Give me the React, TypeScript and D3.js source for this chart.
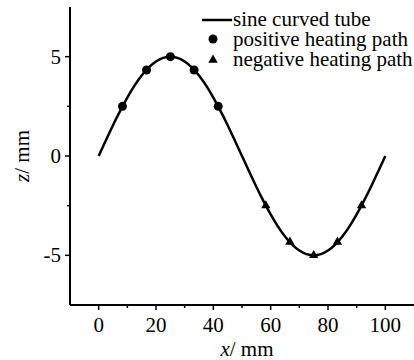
import React from "react";
import * as d3 from "d3";

const curveX = [0, 2.5, 5, 7.5, 10, 12.5, 15, 17.5, 20, 22.5, 25, 27.5, 30, 32.5, 35, 37.5, 40, 42.5, 45, 47.5, 50, 52.5, 55, 57.5, 60, 62.5, 65, 67.5, 70, 72.5, 75, 77.5, 80, 82.5, 85, 87.5, 90, 92.5, 95, 97.5, 100];
const curveZ = [0, 0.78, 1.55, 2.27, 2.94, 3.54, 4.05, 4.46, 4.76, 4.94, 5, 4.94, 4.76, 4.46, 4.05, 3.54, 2.94, 2.27, 1.55, 0.78, 0, -0.78, -1.55, -2.27, -2.94, -3.54, -4.05, -4.46, -4.76, -4.94, -5, -4.94, -4.76, -4.46, -4.05, -3.54, -2.94, -2.27, -1.55, -0.78, 0];
const posX = [8.3, 16.7, 25, 33.3, 41.7];
const posZ = [2.5, 4.33, 5, 4.33, 2.5];
const negX = [58.3, 66.7, 75, 83.3, 91.7];
const negZ = [-2.5, -4.33, -5, -4.33, -2.5];
const xTicks = [0, 20, 40, 60, 80, 100];
const xMinor = [10, 30, 50, 70, 90];
const yTicks = [5, 0, -5];
const yMinor = [2.5, -2.5];
const legendLabels = ["sine curved tube", "positive heating path", "negative heating path"];

const FONT = "'Liberation Serif', 'Times New Roman', serif";
const FS = 21;

export default function App() {
  const W = 414, H = 360;
  const x = d3.scaleLinear().domain([-10, 110]).range([70, 414]);
  const y = d3.scaleLinear().domain([-7.5, 7.5]).range([305, 7]);
  const line = d3
    .line<number>()
    .x((_, i) => x(curveX[i]))
    .y((d) => y(d))
    .curve(d3.curveNatural);
  const tri = d3.symbol().type(d3.symbolTriangle).size(38)();
  return (
    <svg width={W} height={H} style={{ position: "absolute", left: 0, top: 0, background: "#fff" }} fontFamily={FONT}>
      {/* axes */}
      <line x1={x(-10)} x2={x(110)} y1={y(-7.5)} y2={y(-7.5)} stroke="#000" strokeWidth={2} />
      <line x1={x(-10)} x2={x(-10)} y1={y(-7.5)} y2={y(7.5)} stroke="#000" strokeWidth={2} />
      {xTicks.map((t) => (
        <g key={"xt" + t}>
          <line x1={x(t)} x2={x(t)} y1={y(-7.5)} y2={y(-7.5) + 5} stroke="#000" strokeWidth={1.5} />
          <text x={x(t)} y={332} textAnchor="middle" fontSize={FS}>{t}</text>
        </g>
      ))}
      {xMinor.map((t) => (
        <line key={"xm" + t} x1={x(t)} x2={x(t)} y1={y(-7.5)} y2={y(-7.5) + 3} stroke="#000" strokeWidth={1.5} />
      ))}
      {yTicks.map((t) => (
        <g key={"yt" + t}>
          <line x1={x(-10) - 5} x2={x(-10)} y1={y(t)} y2={y(t)} stroke="#000" strokeWidth={1.5} />
          <text x={61} y={y(t) + 7} textAnchor="end" fontSize={FS}>{t}</text>
        </g>
      ))}
      {yMinor.map((t) => (
        <line key={"ym" + t} x1={x(-10) - 3} x2={x(-10)} y1={y(t)} y2={y(t)} stroke="#000" strokeWidth={1.5} />
      ))}
      <text x={247} y={356} textAnchor="middle" fontSize={FS}>
        <tspan fontStyle="italic">x</tspan>/ mm
      </text>
      <text transform={`translate(29,${y(0)}) rotate(-90)`} textAnchor="middle" fontSize={FS}>
        <tspan fontStyle="italic">z</tspan>/ mm
      </text>
      {/* curve */}
      <path d={line(curveZ) || ""} fill="none" stroke="#000" strokeWidth={2.5} />
      {posX.map((v, i) => (
        <circle key={"p" + i} cx={x(v)} cy={y(posZ[i])} r={4.5} fill="#000" />
      ))}
      {negX.map((v, i) => (
        <path key={"n" + i} d={tri || ""} transform={`translate(${x(v)},${y(negZ[i])})`} fill="#000" />
      ))}
      {/* legend */}
      <line x1={202} x2={232} y1={20} y2={20} stroke="#000" strokeWidth={2.5} />
      <circle cx={213} cy={39} r={4.5} fill="#000" />
      <path d={tri || ""} transform="translate(213,60)" fill="#000" />
      {legendLabels.map((l, i) => (
        <text key={l} x={233} y={26 + i * 20} fontSize={FS}>{l}</text>
      ))}
    </svg>
  );
}
